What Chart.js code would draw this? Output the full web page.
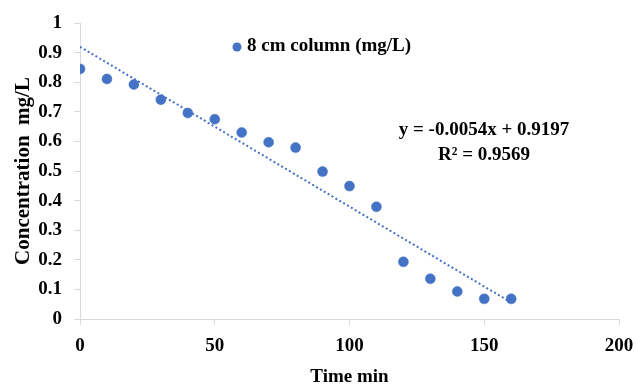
<!DOCTYPE html>
<html lang="en">
<head>
    <meta charset="UTF-8" />
    <title>Concentration vs time</title>
    <script src="https://cdn.jsdelivr.net/npm/chart.js@4.4.1/dist/chart.umd.min.js"></script>
    <style>
        html, body { margin: 0; padding: 0; background: #fff; }
        #wrap { width: 636px; height: 385px; }
    </style>
</head>
<body>
    <div id="wrap"><canvas id="scatterChart"></canvas></div>

    <script>
        // data
        const timeMin = [0, 10, 20, 30, 40, 50, 60, 70, 80, 90, 100, 110, 120, 130, 140, 150, 160];
        const concentration = [0.845, 0.811, 0.792, 0.741, 0.696, 0.675, 0.630, 0.597, 0.579, 0.498, 0.449, 0.379, 0.193, 0.136, 0.093, 0.068, 0.068];
        const seriesLabel = '8 cm column (mg/L)';
        // linear trendline as printed on the chart
        const slope = -0.0054;
        const intercept = 0.9197;
        const eqText = 'y = -0.0054x + 0.9197';
        const r2Text = 'R² = 0.9569';
        const xTicks = [0, 50, 100, 150, 200];
        const yTicks = [0, 0.1, 0.2, 0.3, 0.4, 0.5, 0.6, 0.7, 0.8, 0.9, 1];

        const blue = '#4472C4';
        const serif = '"Liberation Serif", "Times New Roman", serif';

        const points = timeMin.map((t, i) => ({ x: t, y: concentration[i] }));
        const trendX = [timeMin[0], timeMin[timeMin.length - 1]];
        const trend = trendX.map(t => ({ x: t, y: slope * t + intercept }));

        // legend + equation drawn as text inside the plot
        const notes = {
            id: 'notes',
            afterDraw(chart) {
                const ctx = chart.ctx;
                ctx.save();
                ctx.fillStyle = blue;
                ctx.beginPath();
                ctx.arc(237, 47, 4.5, 0, Math.PI * 2);
                ctx.fill();
                ctx.fillStyle = '#000';
                ctx.font = 'bold 19px ' + serif;
                ctx.textBaseline = 'middle';
                ctx.textAlign = 'left';
                ctx.fillText(seriesLabel, 247, 46);
                ctx.textAlign = 'center';
                ctx.fillText(eqText, 484, 130);
                ctx.fillText(r2Text, 484, 155);
                ctx.restore();
            }
        };

        new Chart(document.getElementById('scatterChart'), {
            type: 'scatter',
            data: {
                datasets: [
                    {
                        label: seriesLabel,
                        data: points,
                        backgroundColor: blue,
                        borderColor: blue,
                        borderWidth: 0.5,
                        pointRadius: 5,
                        pointHoverRadius: 5
                    },
                    {
                        label: 'Linear',
                        type: 'line',
                        data: trend,
                        borderColor: blue,
                        borderWidth: 2,
                        borderDash: [2, 2.5],
                        pointRadius: 0,
                        fill: false
                    }
                ]
            },
            options: {
                responsive: true,
                maintainAspectRatio: false,
                animation: false,
                layout: { padding: { top: 23, right: 17, left: 0, bottom: 0 } },
                plugins: {
                    legend: { display: false },
                    tooltip: { enabled: false }
                },
                scales: {
                    x: {
                        type: 'linear',
                        min: 0,
                        max: 200,
                        afterBuildTicks: axis => { axis.ticks = xTicks.map(v => ({ value: v })); },
                        afterFit: axis => { axis.height = 66; axis.paddingLeft = 0; axis.paddingRight = 0; },
                        grid: { drawOnChartArea: false, color: '#d9d9d9', tickLength: 6, tickColor: '#d9d9d9' },
                        border: { color: '#d9d9d9', width: 1 },
                        ticks: { color: '#000', padding: 10, font: { family: serif, size: 19, weight: 'bold' } },
                        title: {
                            display: true,
                            text: 'Time min',
                            color: '#000',
                            padding: { top: 0, bottom: -2 },
                            font: { family: serif, size: 19, weight: 'bold', lineHeight: 1 }
                        }
                    },
                    y: {
                        min: 0,
                        max: 1,
                        afterBuildTicks: axis => { axis.ticks = yTicks.map(v => ({ value: v })); },
                        afterFit: axis => { axis.width = 80; axis.paddingTop = 0; axis.paddingBottom = 0; },
                        grid: { drawOnChartArea: false, color: '#d9d9d9', tickLength: 6, tickColor: '#d9d9d9' },
                        border: { color: '#d9d9d9', width: 1 },
                        ticks: {
                            color: '#000',
                            padding: 12,
                            font: { family: serif, size: 19, weight: 'bold' },
                            callback: v => String(Math.round(v * 10) / 10)
                        },
                        title: {
                            display: true,
                            text: 'Concentration  mg/L',
                            color: '#000',
                            padding: { top: 13, bottom: 0 },
                            font: { family: serif, size: 21, weight: 'bold', lineHeight: 1 }
                        }
                    }
                }
            },
            plugins: [notes]
        });
    </script>
</body>
</html>
